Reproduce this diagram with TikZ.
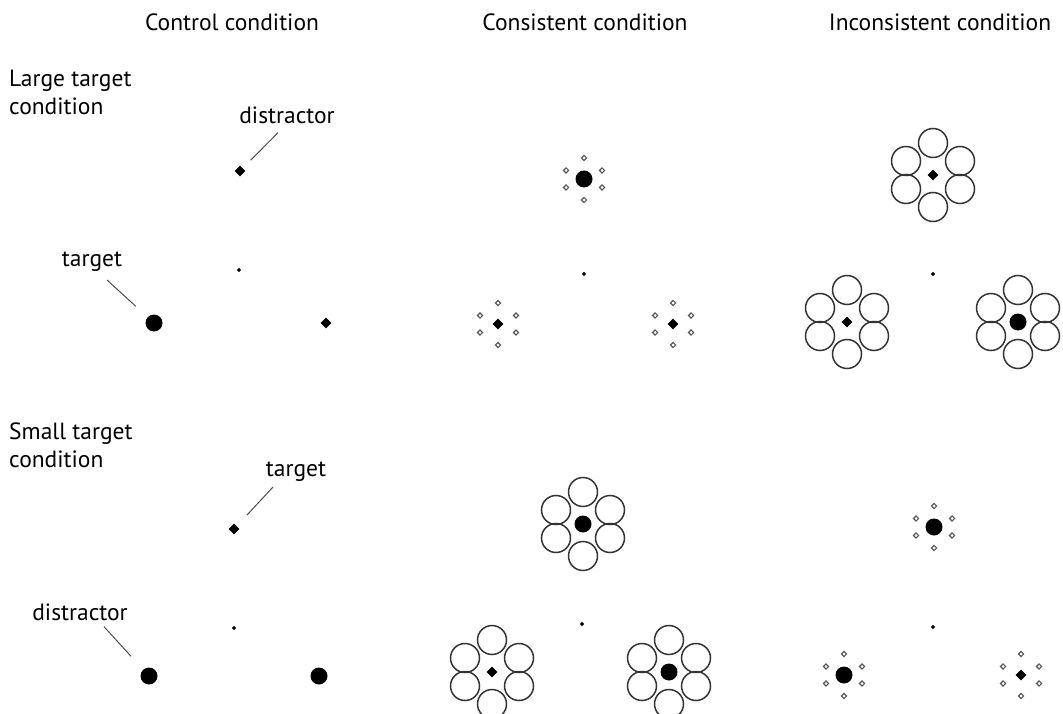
\documentclass[tikz,border=0pt]{standalone}
\usepackage{fontspec}
\setmainfont{PT Sans}
\usetikzlibrary{shapes.geometric}
\tikzset{
  lbl/.style={font=\fontsize{23.5}{28}\selectfont, inner sep=0pt},
  tgt/.style={diamond, fill=black, inner sep=0pt, minimum size=11pt},
  blob/.style={circle, fill=black, inner sep=0pt, minimum size=17pt},
  fix/.style={diamond, fill=black, inner sep=0pt, minimum size=4.5pt},
  flk/.style={diamond, draw=black!65, line width=1.1pt, inner sep=0pt, minimum size=5.5pt},
  ring/.style={circle, draw=black!80, line width=1.5pt, inner sep=0pt, minimum size=29pt},
  lead/.style={draw=black!70, line width=1pt},
  pics/rings/.style={code={
    \node[ring] at (0,-32) {};
    \node[ring] at (0,32) {};
    \node[ring] at (-27,-14) {};
    \node[ring] at (27,-14) {};
    \node[ring] at (-27,14) {};
    \node[ring] at (27,14) {};
  }},
  pics/dots/.style={code={
    \node[flk] at (0,-21) {};
    \node[flk] at (0,21) {};
    \node[flk] at (-18,-8.5) {};
    \node[flk] at (18,-8.5) {};
    \node[flk] at (-18,8.5) {};
    \node[flk] at (18,8.5) {};
  }}
}
\begin{document}
\begin{tikzpicture}[x=1pt,y=-1pt]
\useasboundingbox (0,0) rectangle (1063,714);
%headers
\node[lbl] (h-ctl) at (232,22) {Control condition};
\node[lbl] (h-con) at (585,22) {Consistent condition};
\node[lbl] (h-inc) at (940,22) {Inconsistent condition};
\node[lbl, anchor=north west, align=left] (r-large) at (9,70) {Large target\\condition};
\node[lbl, anchor=north west, align=left] (r-small) at (9,423) {Small target\\condition};
%large target, control
\node[tgt] (lc-dis) at (240,171) {};
\node[fix] (lc-fix) at (239,270) {};
\node[blob] (lc-tgt) at (154,323) {};
\node[tgt] (lc-dis2) at (326,323) {};
\node[lbl] (lc-dlbl) at (287,115) {distractor};
\node[lbl] (lc-tlbl) at (92,262) {target};
\draw[lead, shorten >=11pt] ([xshift=-9pt,yshift=-9pt]lc-dlbl.south) -- (lc-dis);
\draw[lead, shorten >=16pt] ([xshift=15pt,yshift=-8pt]lc-tlbl.south) -- (lc-tgt);
%large target, consistent
\node[blob] (lk-top) at (584,179) {};
\pic at (lk-top) {dots};
\node[fix] (lk-fix) at (584,274) {};
\node[tgt] (lk-left) at (498,324) {};
\pic at (lk-left) {dots};
\node[tgt] (lk-right) at (673,324) {};
\pic at (lk-right) {dots};
%large target, inconsistent
\node[tgt] (li-top) at (933,175) {};
\pic at (li-top) {rings};
\node[fix] (li-fix) at (933,274) {};
\node[tgt] (li-left) at (847,322) {};
\pic at (li-left) {rings};
\node[blob] (li-right) at (1018,322) {};
\pic at (li-right) {rings};
%small target, control
\node[tgt] (sc-tgt) at (234,529) {};
\node[fix] (sc-fix) at (234,628) {};
\node[blob] (sc-dis) at (149,676) {};
\node[blob] (sc-dis2) at (319,676) {};
\node[lbl] (sc-tlbl) at (296,472) {target};
\node[lbl] (sc-dlbl) at (80,612) {distractor};
\draw[lead, shorten >=15pt] ([xshift=-23pt,yshift=-5pt]sc-tlbl.south) -- (sc-tgt);
\draw[lead, shorten >=18pt] ([xshift=24pt,yshift=-6pt]sc-dlbl.south) -- (sc-dis);
%small target, consistent
\node[blob] (sk-top) at (583,524) {};
\pic at (sk-top) {rings};
\node[fix] (sk-fix) at (582,624) {};
\node[tgt] (sk-left) at (492,672) {};
\pic at (sk-left) {rings};
\node[blob] (sk-right) at (669,672) {};
\pic at (sk-right) {rings};
%small target, inconsistent
\node[blob] (si-top) at (934,527) {};
\pic at (si-top) {dots};
\node[fix] (si-fix) at (933,627) {};
\node[blob] (si-left) at (844,675) {};
\pic at (si-left) {dots};
\node[tgt] (si-right) at (1021,675) {};
\pic at (si-right) {dots};
\end{tikzpicture}
\end{document}
